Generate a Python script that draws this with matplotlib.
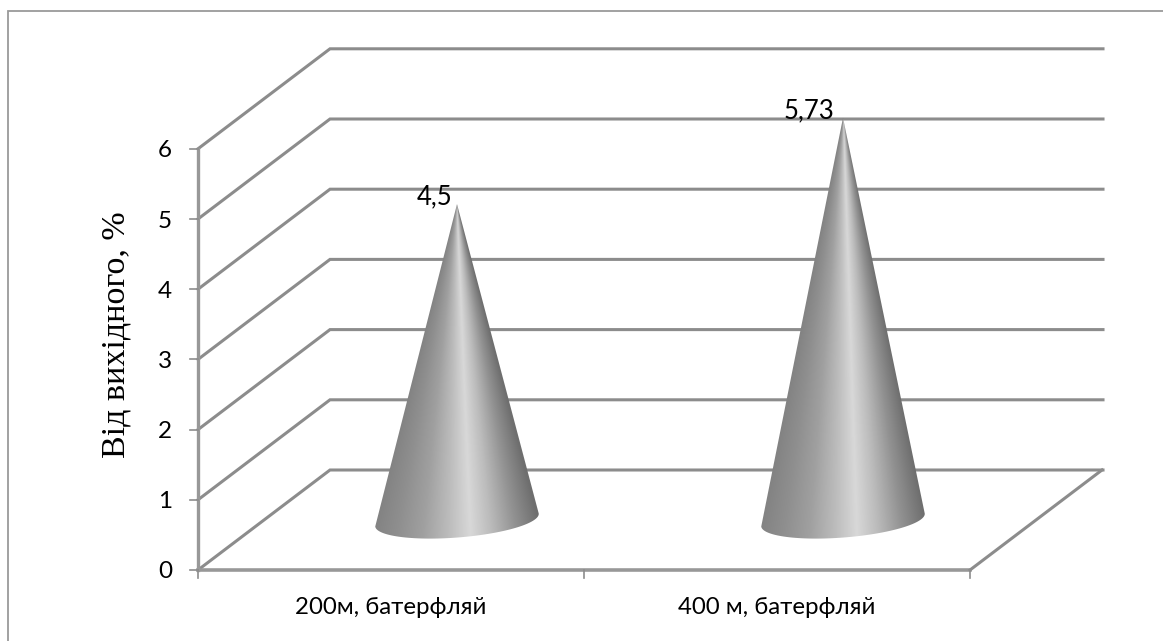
import numpy as np
import matplotlib
matplotlib.use('Agg')
import matplotlib.pyplot as plt
from matplotlib.path import Path
from matplotlib.patches import PathPatch
from matplotlib.colors import LinearSegmentedColormap

categories = ['200м, батерфляй', '400 м, батерфляй']
values = [4.5, 5.73]
value_labels = ['4,5', '5,73']
yticks = [0, 1, 2, 3, 4, 5, 6]
ylabel = 'Від вихідного, %'

W, H = 1163, 641
GRAY = '#8c8c8c'
SANS = ['Lato', 'DejaVu Sans']

# x: one unit = one category, y: one unit = one tick step
x_unit = 386.0
y_unit = 70.2
x0_px = 198.0
y0_px = 570.0
depth_x = 132.0 / x_unit
depth_y = 100.0 / y_unit

fig = plt.figure(figsize=(W / 100, H / 100), dpi=100)
ax = fig.add_axes([0, 0, 1, 1])
ax.axis('off')


def px_x(dx):
    return dx / x_unit


def px_y(dy):
    return dy / y_unit


xlim = (-x0_px / x_unit, (W - x0_px) / x_unit)
ylim = (-(H - y0_px) / y_unit, y0_px / y_unit)

# outer frame, only top and left are in the picture
ax.plot([xlim[0] + px_x(7.5), xlim[0] + px_x(7.5), xlim[1]],
        [ylim[0], ylim[1] - px_y(10.5), ylim[1] - px_y(10.5)],
        color='#9a9a9a', lw=1.3, zorder=1, solid_joinstyle='miter')

n = len(categories)
# gridlines, walls
for t in yticks:
    ax.plot([0, depth_x, n + px_x(133)], [t, t + depth_y, t + depth_y], color=GRAY, lw=2.2,
            solid_joinstyle='miter', zorder=2)
ax.plot([0, 0], [0, yticks[-1]], color='#989898', lw=2.4, zorder=2)
ax.plot([0, n], [0, 0], color='#989898', lw=2.6, zorder=2)
ax.plot([n, n + depth_x], [0, depth_y], color=GRAY, lw=2.2, zorder=2)

# ticks
for t in yticks:
    ax.plot([px_x(-8), 0], [t, t], color=GRAY, lw=1.2, zorder=2)
    ax.text(px_x(-26), t - px_y(2), str(t), ha='right', va='center', fontsize=17.5, family=SANS, color='black')
for i in range(n + 1):
    ax.plot([i, i], [px_y(-8), 0], color=GRAY, lw=1.2, zorder=2)

cmap = LinearSegmentedColormap.from_list('cone', [
    (0.0, '#828282'), (0.15, '#8f8f8f'), (0.3, '#a0a0a0'), (0.45, '#bcbcbc'), (0.58, '#d8d8d8'),
    (0.7, '#bcbcbc'), (0.85, '#929292'), (1.0, '#6e6e6e')])

for i, v in enumerate(values):
    xc = i + 0.5 + depth_x / 2
    base_y = px_y(y0_px - 520)
    apex_y = base_y + v
    # tilted base ellipse
    a, b, tilt = 82.0, 17.5, np.radians(4.5)
    t = np.linspace(np.pi, 2 * np.pi, 80)
    ex = a * np.cos(t) * np.cos(tilt) - b * np.sin(t) * np.sin(tilt)
    ey = a * np.cos(t) * np.sin(tilt) + b * np.sin(t) * np.cos(tilt)
    xs = np.r_[xc, xc + px_x(ex)]
    ys = np.r_[apex_y, base_y + px_y(ey)]
    verts = np.c_[xs, ys]
    clip = PathPatch(Path(np.vstack([verts, verts[0]]), closed=True), fc='none', ec='none', transform=ax.transData)
    ax.add_patch(clip)

    # shading follows the cone: position across the width at each height
    left, right = xc - px_x(84), xc + px_x(84)
    bottom, top = base_y - px_y(22), apex_y
    gx, gy = np.meshgrid(np.linspace(left, right, 340), np.linspace(bottom, top, 700))
    frac = np.clip((apex_y - gy) / (apex_y - base_y), 0.002, 1.1)
    u = (gx - xc) / (px_x(82) * frac)
    im = ax.imshow(np.clip((u + 1) / 2, 0, 1), extent=[left, right, bottom, top], origin='lower',
                   cmap=cmap, vmin=0, vmax=1, aspect='auto', zorder=3, interpolation='bilinear')
    im.set_clip_path(clip)

    ax.text(xc - px_x(5 + 4 * i), apex_y + px_y(7), value_labels[i], ha='right', va='center',
            fontsize=18.5, family=SANS, color='black', zorder=4)
    ax.text(i + 0.5, px_y(-38), categories[i], ha='center', va='center', fontsize=17.3,
            family=SANS, color='black')

ax.set_xlim(*xlim)
ax.set_ylim(*ylim)

ax.text(px_x(116 - x0_px), px_y(y0_px - 335), ylabel, rotation=90, ha='center', va='center', fontsize=24.5,
        family=['Liberation Serif'], color='black')

fig.savefig('out.png', dpi=100)
